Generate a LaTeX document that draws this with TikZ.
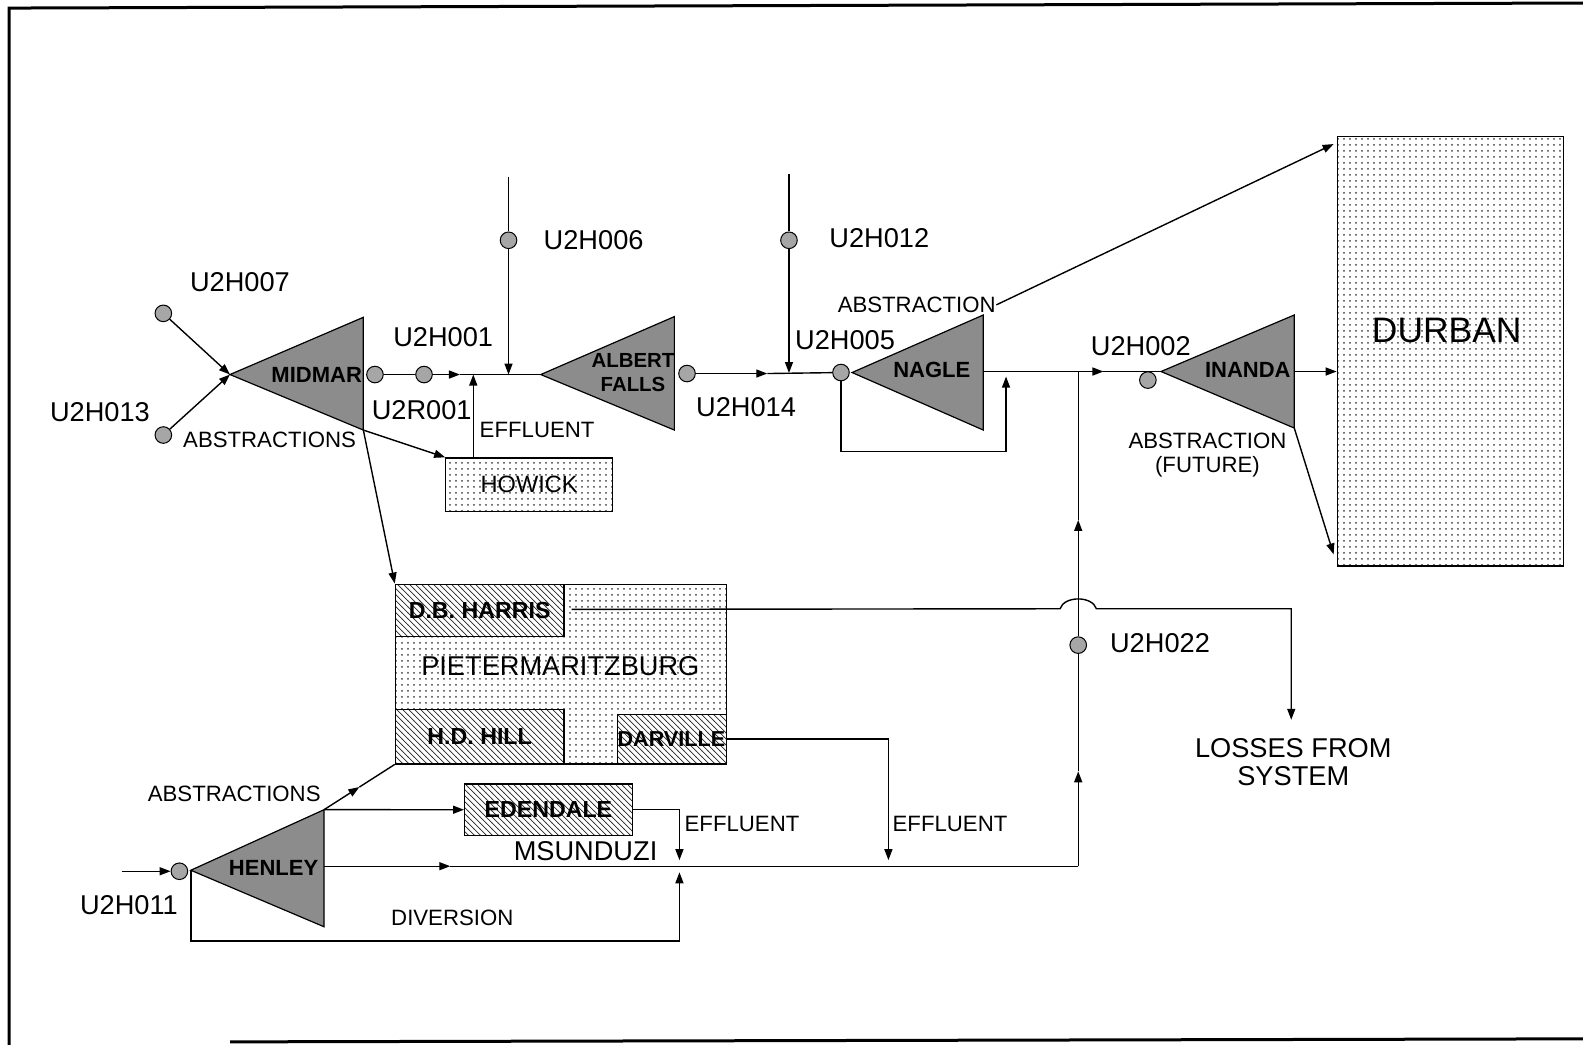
\documentclass[tikz,border=0pt]{standalone}
\usepackage{fontspec}
\setmainfont{Liberation Sans}
\usetikzlibrary{arrows.meta,patterns,calc}
\begin{document}
\begin{tikzpicture}[x=0.5048pt,y=-0.5048pt,
  >={Triangle[length=5.5pt,width=4pt]},
  line width=0.7pt,
  big/.style={font=\fontsize{13.6}{14.5}\selectfont,inner sep=0pt},
  sml/.style={font=\fontsize{11.1}{12.2}\selectfont,inner sep=0pt},
  inl/.style={font=\bfseries\fontsize{11}{12}\selectfont,inner sep=0pt},
  gauge/.style={circle,draw,line width=0.5pt,fill=black!35,minimum size=8.3pt,inner sep=0pt},
  res/.style={draw,line width=0.6pt,fill=black!45},
  town/.style={draw,line width=0.6pt,pattern=dots,pattern color=black!75,inner sep=0pt,anchor=north west},
  works/.style={draw,line width=0.6pt,preaction={fill=white},pattern=north west lines,pattern color=black!85,inner sep=0pt,anchor=north west},
  frame/.style={line width=1.5pt}
]
\useasboundingbox (0,0) rectangle (1568,1035);
% frame
\draw[frame] (1568,3) -- (9,8) -- (9,1035);
\draw[frame] (228,1032) -- (1568,1029);

% ---------- reservoirs ----------
\coordinate (mid-t) at (227.8,371); \coordinate (mid-a) at (359.9,314.3); \coordinate (mid-b) at (359.9,426);
\coordinate (alb-t) at (535.6,371); \coordinate (alb-a) at (668,313.6); \coordinate (alb-b) at (668,426);
\coordinate (nag-t) at (844,369); \coordinate (nag-a) at (974,312); \coordinate (nag-b) at (974,426);
\coordinate (ina-t) at (1150,368); \coordinate (ina-a) at (1282,312); \coordinate (ina-b) at (1282,424);
\coordinate (hen-t) at (189,862); \coordinate (hen-a) at (321,802); \coordinate (hen-b) at (321,918);
\coordinate (nag-m) at (974,368); \coordinate (ina-m) at (1282,368); \coordinate (hen-m) at (321,858);

\draw[res] (mid-t) -- (mid-a) -- (mid-b) -- cycle;
\draw[res] (alb-t) -- (alb-a) -- (alb-b) -- cycle;
\draw[res] (nag-t) -- (nag-a) -- (nag-b) -- cycle;
\draw[res] (ina-t) -- (ina-a) -- (ina-b) -- cycle;
\draw[res] (hen-t) -- (hen-a) -- (hen-b) -- cycle;

\node[inl] (lmid) at (313.7,371) {MIDMAR};
\node[inl,align=center,font=\bfseries\fontsize{10.2}{12}\selectfont] (lalb) at (627,369) {ALBERT\\FALLS};
\node[inl] (lnag) at (923,366) {NAGLE};
\node[inl] (lina) at (1236,366) {INANDA};
\node[inl] (lhen) at (271,860) {HENLEY};

% ---------- towns and works ----------
\node[town,minimum width=113.1pt,minimum height=214.7pt] (dur) at (1324,134.7) {};
\node[font=\fontsize{17.7}{19}\selectfont,inner sep=0pt] (ldur) at (1433,327) {DURBAN};

\node[town,minimum width=83.3pt,minimum height=26.75pt] (how) at (441,453) {};
\node[sml,font=\fontsize{11.8}{13}\selectfont] (lhow) at (how.center) {HOWICK};

\node[town,minimum width=165.6pt,minimum height=89.9pt] (pmb) at (391,578) {};
\node[works,minimum width=84.3pt,minimum height=26.25pt] (dbh) at (391,578) {};
\node[works,minimum width=84.3pt,minimum height=27.26pt] (hdh) at (391,702) {};
\node[works,minimum width=54.5pt,minimum height=24.7pt] (dar) at (611,707) {};
\node[big] (lpmb) at (555,660) {PIETERMARITZBURG};
\node[inl,font=\bfseries\fontsize{11.6}{12}\selectfont] (ldbh) at (dbh.center) {D.B. HARRIS};
\node[inl,font=\bfseries\fontsize{11.6}{12}\selectfont] (lhdh) at (hdh.center) {H.D. HILL};
\node[inl,font=\bfseries\fontsize{10.8}{12}\selectfont] (ldar) at (665,732) {DARVILLE};

\node[works,minimum width=83.8pt,minimum height=25.7pt] (ede) at (459.6,776) {};
\node[inl,font=\bfseries\fontsize{11.6}{12}\selectfont] (lede) at (ede.center) {EDENDALE};

% ---------- gauges ----------
\node[gauge] (g007) at (161.8,310.4) {};
\node[gauge] (g013) at (161.8,430.9) {};
\node[gauge] (gmid) at (371.4,371) {};
\node[gauge] (g001) at (420,371) {};
\node[gauge] (g006) at (503.7,238) {};
\node[gauge] (galb) at (680.5,370) {};
\node[gauge] (g012) at (781.5,238) {};
\node[gauge] (g005) at (833,369) {};
\node[gauge] (g002) at (1137,376.5) {};
\node[gauge] (g022) at (1068,639) {};
\node[gauge] (g011) at (177.7,863) {};

% ---------- labels ----------
\node[big] (t007) at (237.7,279) {U2H007};
\node[big] (t013) at (99,408) {U2H013};
\node[big] (t001) at (439,333.5) {U2H001};
\node[big] (tr001) at (417.7,406) {U2R001};
\node[big] (t006) at (588,238) {U2H006};
\node[big] (t014) at (739,403) {U2H014};
\node[big] (t012) at (871,236) {U2H012};
\node[big] (t005) at (837,337) {U2H005};
\node[big] (t002) at (1130,343) {U2H002};
\node[big] (t022) at (1149,637) {U2H022};
\node[big] (t011) at (127.7,897) {U2H011};
\node[sml] (abs1) at (267,436) {ABSTRACTIONS};
\node[sml] (eff1) at (532,426) {EFFLUENT};
\node[sml] (absN) at (908,302) {ABSTRACTION};
\node[sml,align=center] (absF) at (1196,450.5) {ABSTRACTION\\(FUTURE)};
\node[big,align=center,font=\fontsize{13.6}{13.6}\selectfont] (loss) at (1281,755) {LOSSES FROM\\SYSTEM};
\node[sml] (abs2) at (232,786) {ABSTRACTIONS};
\node[sml] (eff2) at (735,816) {EFFLUENT};
\node[sml] (eff3) at (941,816) {EFFLUENT};
\node[big] (msu) at (580,843) {MSUNDUZI};
\node[sml] (div) at (448,909) {DIVERSION};

% ---------- helper coordinates ----------
\coordinate (a1) at (455.6,371);
\coordinate (j1) at (468.8,371);
\coordinate (top006) at (503.7,175);
\coordinate (j2) at (503.7,371);
\coordinate (a2) at (760,370);
\coordinate (top012) at (781.5,172);
\coordinate (j3) at (781.5,369.5);
\coordinate (lp1) at (833,447);
\coordinate (lp2) at (996.5,447);
\coordinate (lpe) at (996.5,373);
\coordinate (a3) at (1093,368);
\coordinate (j5) at (1068,368);
\coordinate (a6) at (1068,515);
\coordinate (a5) at (1068,764);
\coordinate (j4) at (1068,858);
\coordinate (a4) at (446,858);
\coordinate (in011) at (121,863);
\coordinate (dv1) at (189,932);
\coordinate (dv2) at (673,932);
\coordinate (e1) at (673,852);
\coordinate (e3) at (673,864);
\coordinate (e2) at (880,852);
\coordinate (hop1) at (1050,603);
\coordinate (hop2) at (1086,603);
\coordinate (lossin) at (1279,713);
\coordinate (dTop) at ($(dur.north west)+(-3,8)$);
\coordinate (dBot) at ($(dur.south west)+(-3,-12)$);
\coordinate (hab) at ($(hen-a)!0.5!(hdh.south west)$);

% ---------- connectors ----------
\draw[->] (g007) -- (mid-t);
\draw[->] (g013) -- (mid-t);
\draw (gmid) -- (g001);
\draw[->] (g001) -- (a1);
\draw (a1) -- (alb-t);
\draw[->] (how.north -| j1) -- (j1);
\draw (top006) -- (g006);
\draw[->] (g006) -- (j2);
\draw[->] (mid-b) -- (how.north west);
\draw[->] (mid-b) -- (pmb.north west);

\draw[->] (galb) -- (a2);
\draw (a2) -- (g005);
\draw (top012) -- (g012);
\draw[->] (g012) -- (j3);
\draw[->] (g005.south) -- (lp1) -- (lp2) -- (lpe);
\draw[->] (nag-m) -- (a3);
\draw (a3) -- (ina-t);
\draw[->] (ina-m) -- (ina-m -| dur.west);
\draw[->] (absN.east) -- (dTop);
\draw[->] (ina-b) -- (dBot);

\draw[->] ($(dbh.east)+(7,-1)$) -- (hop1) .. controls (1054,590) and (1082,590) .. (hop2) -| (lossin);
\draw[->] (dar.east |- ldar) -| (e2);

\draw[->] (in011) -- (g011.west);
\draw[->] (hen-a) -- (hab);
\draw (hab) -- (hdh.south west);
\draw[->] (hen-a) -- (ede.west);
\draw[->] (ede.east) -| (e1);
\draw[->] (hen-m) -- (a4);
\draw (a4) -- (j4);
\draw[->] (j4) -- (a5);
\draw (a5) -- (g022);
\draw[->] (g022) -- (a6);
\draw (a6) -- (j5);
\draw[->] (hen-t) -- (dv1) -- (dv2) -- (e3);
\end{tikzpicture}
\end{document}
